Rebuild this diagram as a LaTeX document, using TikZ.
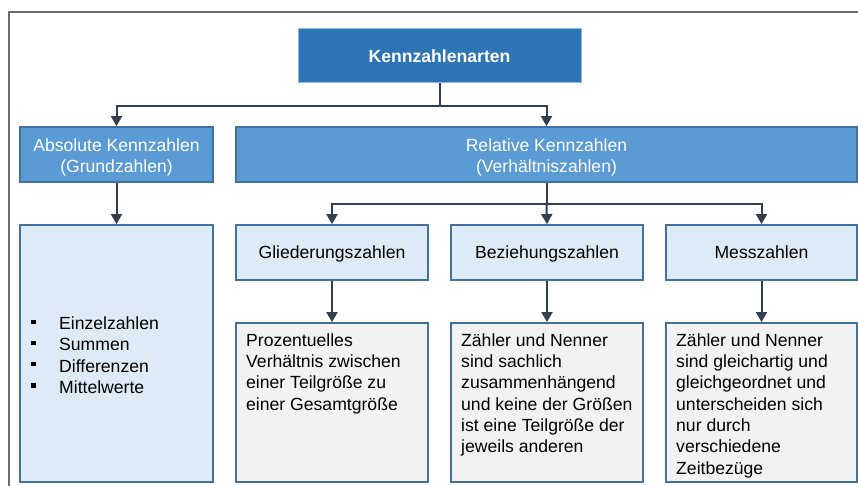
\documentclass[tikz,border=0pt]{standalone}
\usepackage{fontspec}
\setmainfont{Liberation Sans}
\usetikzlibrary{arrows.meta,calc}
\definecolor{topblue}{HTML}{2E75B6}
\definecolor{midblue}{HTML}{5B9BD5}
\definecolor{lightblue}{HTML}{DDEBF7}
\definecolor{lightgray}{HTML}{F2F2F2}
\definecolor{bordc}{HTML}{41719C}
\definecolor{connc}{HTML}{323F4F}
\definecolor{framec}{HTML}{6E6E6E}
\newcommand{\bul}{\makebox[28pt][l]{\rule[5.7pt]{4.3pt}{4.3pt}}}
\begin{document}
\begin{tikzpicture}[x=1pt,y=-1pt,
  font=\fontsize{17.6}{21.3}\selectfont,
  box/.style={draw=bordc, line width=1.8pt, inner sep=0pt, rectangle},
  topbox/.style={box, fill=topblue, draw=midblue!70, line width=1pt, text=white, font=\fontsize{17.6}{21.3}\selectfont\bfseries, text height=12.6pt, text depth=0pt},
  hdrbox/.style={box, fill=midblue},
  catbox/.style={box, fill=lightblue, text=black, text height=12.6pt, text depth=0pt},
  descbox/.style={box, fill=lightgray},
  hdrtext/.style={inner sep=0pt, text=white, align=center, anchor=north},
  desctext/.style={inner sep=0pt, text=black, align=left, anchor=north west},
  conn/.style={draw=connc, line width=2pt},
  arr/.style={conn, -{Triangle[width=11pt,length=10pt]}}
]
\useasboundingbox (0,0) rectangle (858,486);
% frame
\draw[framec, line width=2pt] (9,486) -- (9,12) -- (858,12);
% boxes
\node[topbox, minimum width=283pt, minimum height=54pt] (top) at (439.5,56) {Kennzahlenarten};
\node[hdrbox, minimum width=193pt, minimum height=55pt] (abs) at (116.5,154.5) {};
\node[hdrbox, minimum width=621pt, minimum height=55pt] (rel) at (546.5,154.5) {};
\node[hdrtext] (absT) at (116.5,136.1) {\strut Absolute Kennzahlen\\(Grundzahlen)};
\node[hdrtext] (relT) at (546.5,136.1) {\strut Relative Kennzahlen\\(Verhältniszahlen)};
\node[box, fill=lightblue, minimum width=193pt, minimum height=257pt] (list) at (116.5,353.5) {};
\node[desctext] (listT) at (31,314.4) {\strut\bul Einzelzahlen\\\bul Summen\\\bul Differenzen\\\bul Mittelwerte};
\node[catbox, minimum width=192pt, minimum height=55pt] (gl) at (332,252.5) {Gliederungszahlen};
\node[catbox, minimum width=192pt, minimum height=55pt] (bz) at (547,252.5) {Beziehungszahlen};
\node[catbox, minimum width=191pt, minimum height=55pt] (ms) at (761.5,252.5) {Messzahlen};
\node[descbox, minimum width=192pt, minimum height=159pt] (glD) at (332,402.5) {};
\node[descbox, minimum width=192pt, minimum height=159pt] (bzD) at (547,402.5) {};
\node[descbox, minimum width=191pt, minimum height=159pt] (msD) at (761.5,402.5) {};
\node[desctext] (glT) at (246,331.1) {\strut Prozentuelles\\Verhältnis zwischen\\einer Teilgröße zu\\einer Gesamtgröße};
\node[desctext] (bzT) at (461,331.1) {\strut Zähler und Nenner\\sind sachlich\\zusammenhängend\\und keine der Größen\\ist eine Teilgröße der\\jeweils anderen};
\node[desctext] (msT) at (676,331.1) {\strut Zähler und Nenner\\sind gleichartig und\\gleichgeordnet und\\unterscheiden sich\\nur durch\\verschiedene\\Zeitbezüge};
% connectors
\coordinate (j1) at ($(top.south)+(0,23)$);
\draw[conn] (top.south) -- (j1);
\draw[arr] (j1) -| (abs.north);
\draw[arr] (j1) -| (rel.north);
\draw[arr] (abs.south) -- (list.north);
\coordinate (j2) at ($(rel.south)+(0,21)$);
\draw[conn] (rel.south) -- (j2);
\draw[arr] (j2) -| (gl.north);
\draw[arr] (j2) -- (bz.north);
\draw[arr] (j2) -| (ms.north);
\draw[arr] (gl.south) -- (glD.north);
\draw[arr] (bz.south) -- (bzD.north);
\draw[arr] (ms.south) -- (msD.north);
\end{tikzpicture}
\end{document}
